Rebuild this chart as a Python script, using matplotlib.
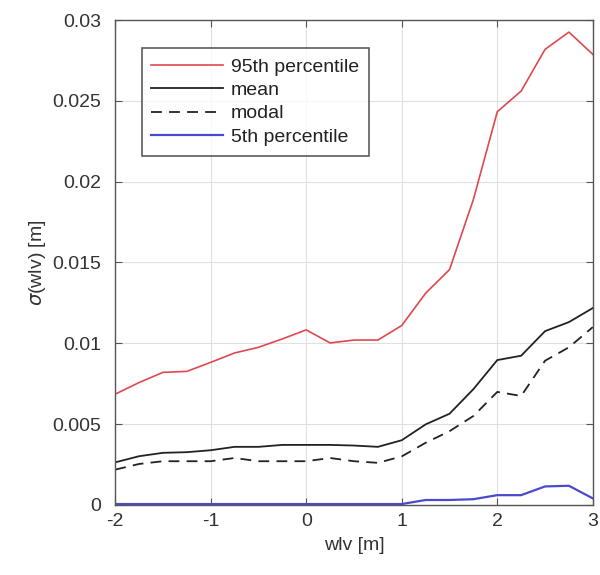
import matplotlib
matplotlib.use("Agg")
import matplotlib.pyplot as plt

wlv = [-2, -1.75, -1.5, -1.25, -1, -0.75, -0.5, -0.25, 0, 0.25, 0.5, 0.75,
       1, 1.25, 1.5, 1.75, 2, 2.25, 2.5, 2.75, 3]
p95 = [0.00685, 0.00757, 0.0082, 0.00826, 0.00882, 0.0094, 0.00975, 0.01027,
       0.01083, 0.01002, 0.0102, 0.0102, 0.0111, 0.0131, 0.01456, 0.0189,
       0.02433, 0.02561, 0.02819, 0.02926, 0.02788]
mean = [0.00263, 0.00301, 0.00322, 0.00326, 0.00338, 0.00359, 0.00359, 0.00371,
        0.00371, 0.00371, 0.00367, 0.00359, 0.0040, 0.00498, 0.00564, 0.00716,
        0.00896, 0.00923, 0.01075, 0.01131, 0.01218]
modal = [0.00218, 0.00253, 0.0027, 0.0027, 0.0027, 0.0029, 0.0027, 0.0027,
         0.0027, 0.0029, 0.0027, 0.0026, 0.0030, 0.00384, 0.00456, 0.0055,
         0.00699, 0.00674, 0.00892, 0.00975, 0.0110]
p5 = [0.00005, 0.00005, 0.00005, 0.00005, 0.00005, 0.00005, 0.00005, 0.00005,
      0.00005, 0.00005, 0.00005, 0.00005, 0.00005, 0.0003, 0.0003, 0.00035,
      0.0006, 0.0006, 0.00114, 0.00118, 0.0004]
xticks = [-2, -1, 0, 1, 2, 3]
yticks = [0, 0.005, 0.01, 0.015, 0.02, 0.025, 0.03]
yticklabels = ["0", "0.005", "0.01", "0.015", "0.02", "0.025", "0.03"]

plt.rcParams['font.family'] = ['Liberation Sans', 'DejaVu Sans']
fig = plt.figure(figsize=(6, 5.75), dpi=100)
ax = fig.add_axes([0.192, 0.122, 0.796, 0.843])

ax.plot(wlv, p95, color='#e0484f', lw=1.2, label='95th percentile')
ax.plot(wlv, mean, color='#222222', lw=1.3, label='mean')
ax.plot(wlv, modal, color='#222222', lw=1.3, ls=(0, (6, 4)), label='modal')
ax.plot(wlv, p5, color='#4a4ad0', lw=1.6, label='5th percentile')

ax.set_xlim(-2, 3)
ax.set_ylim(0, 0.03)
ax.set_xticks(xticks)
ax.set_xticklabels([str(t) for t in xticks])
ax.set_yticks(yticks)
ax.set_yticklabels(yticklabels)
ax.grid(True, color='#e0e0e0', lw=0.8)
ax.tick_params(direction='in', top=True, right=True, labelsize=14,
               colors='#555555', labelcolor='#333333', length=5)
ax.tick_params(axis='y', pad=10)
ax.tick_params(axis='x', pad=6)
for s in ax.spines.values():
    s.set_color('#555555')
    s.set_linewidth(1.0)
ax.set_xlabel('wlv [m]', fontsize=14, color='#333333', labelpad=5)
ax.set_ylabel(r'$\sigma$(wlv) [m]', fontsize=14, color='#333333', labelpad=3)

leg = ax.legend(loc='upper left', bbox_to_anchor=(0.035, 0.962), fontsize=14,
                frameon=True, fancybox=False, edgecolor='#333333',
                handlelength=3.7, borderpad=0.5, labelspacing=0.3,
                handletextpad=0.4)
leg.get_frame().set_linewidth(1.2)
for t in leg.get_texts():
    t.set_color('#222222')

fig.savefig('out.png', dpi=100)
